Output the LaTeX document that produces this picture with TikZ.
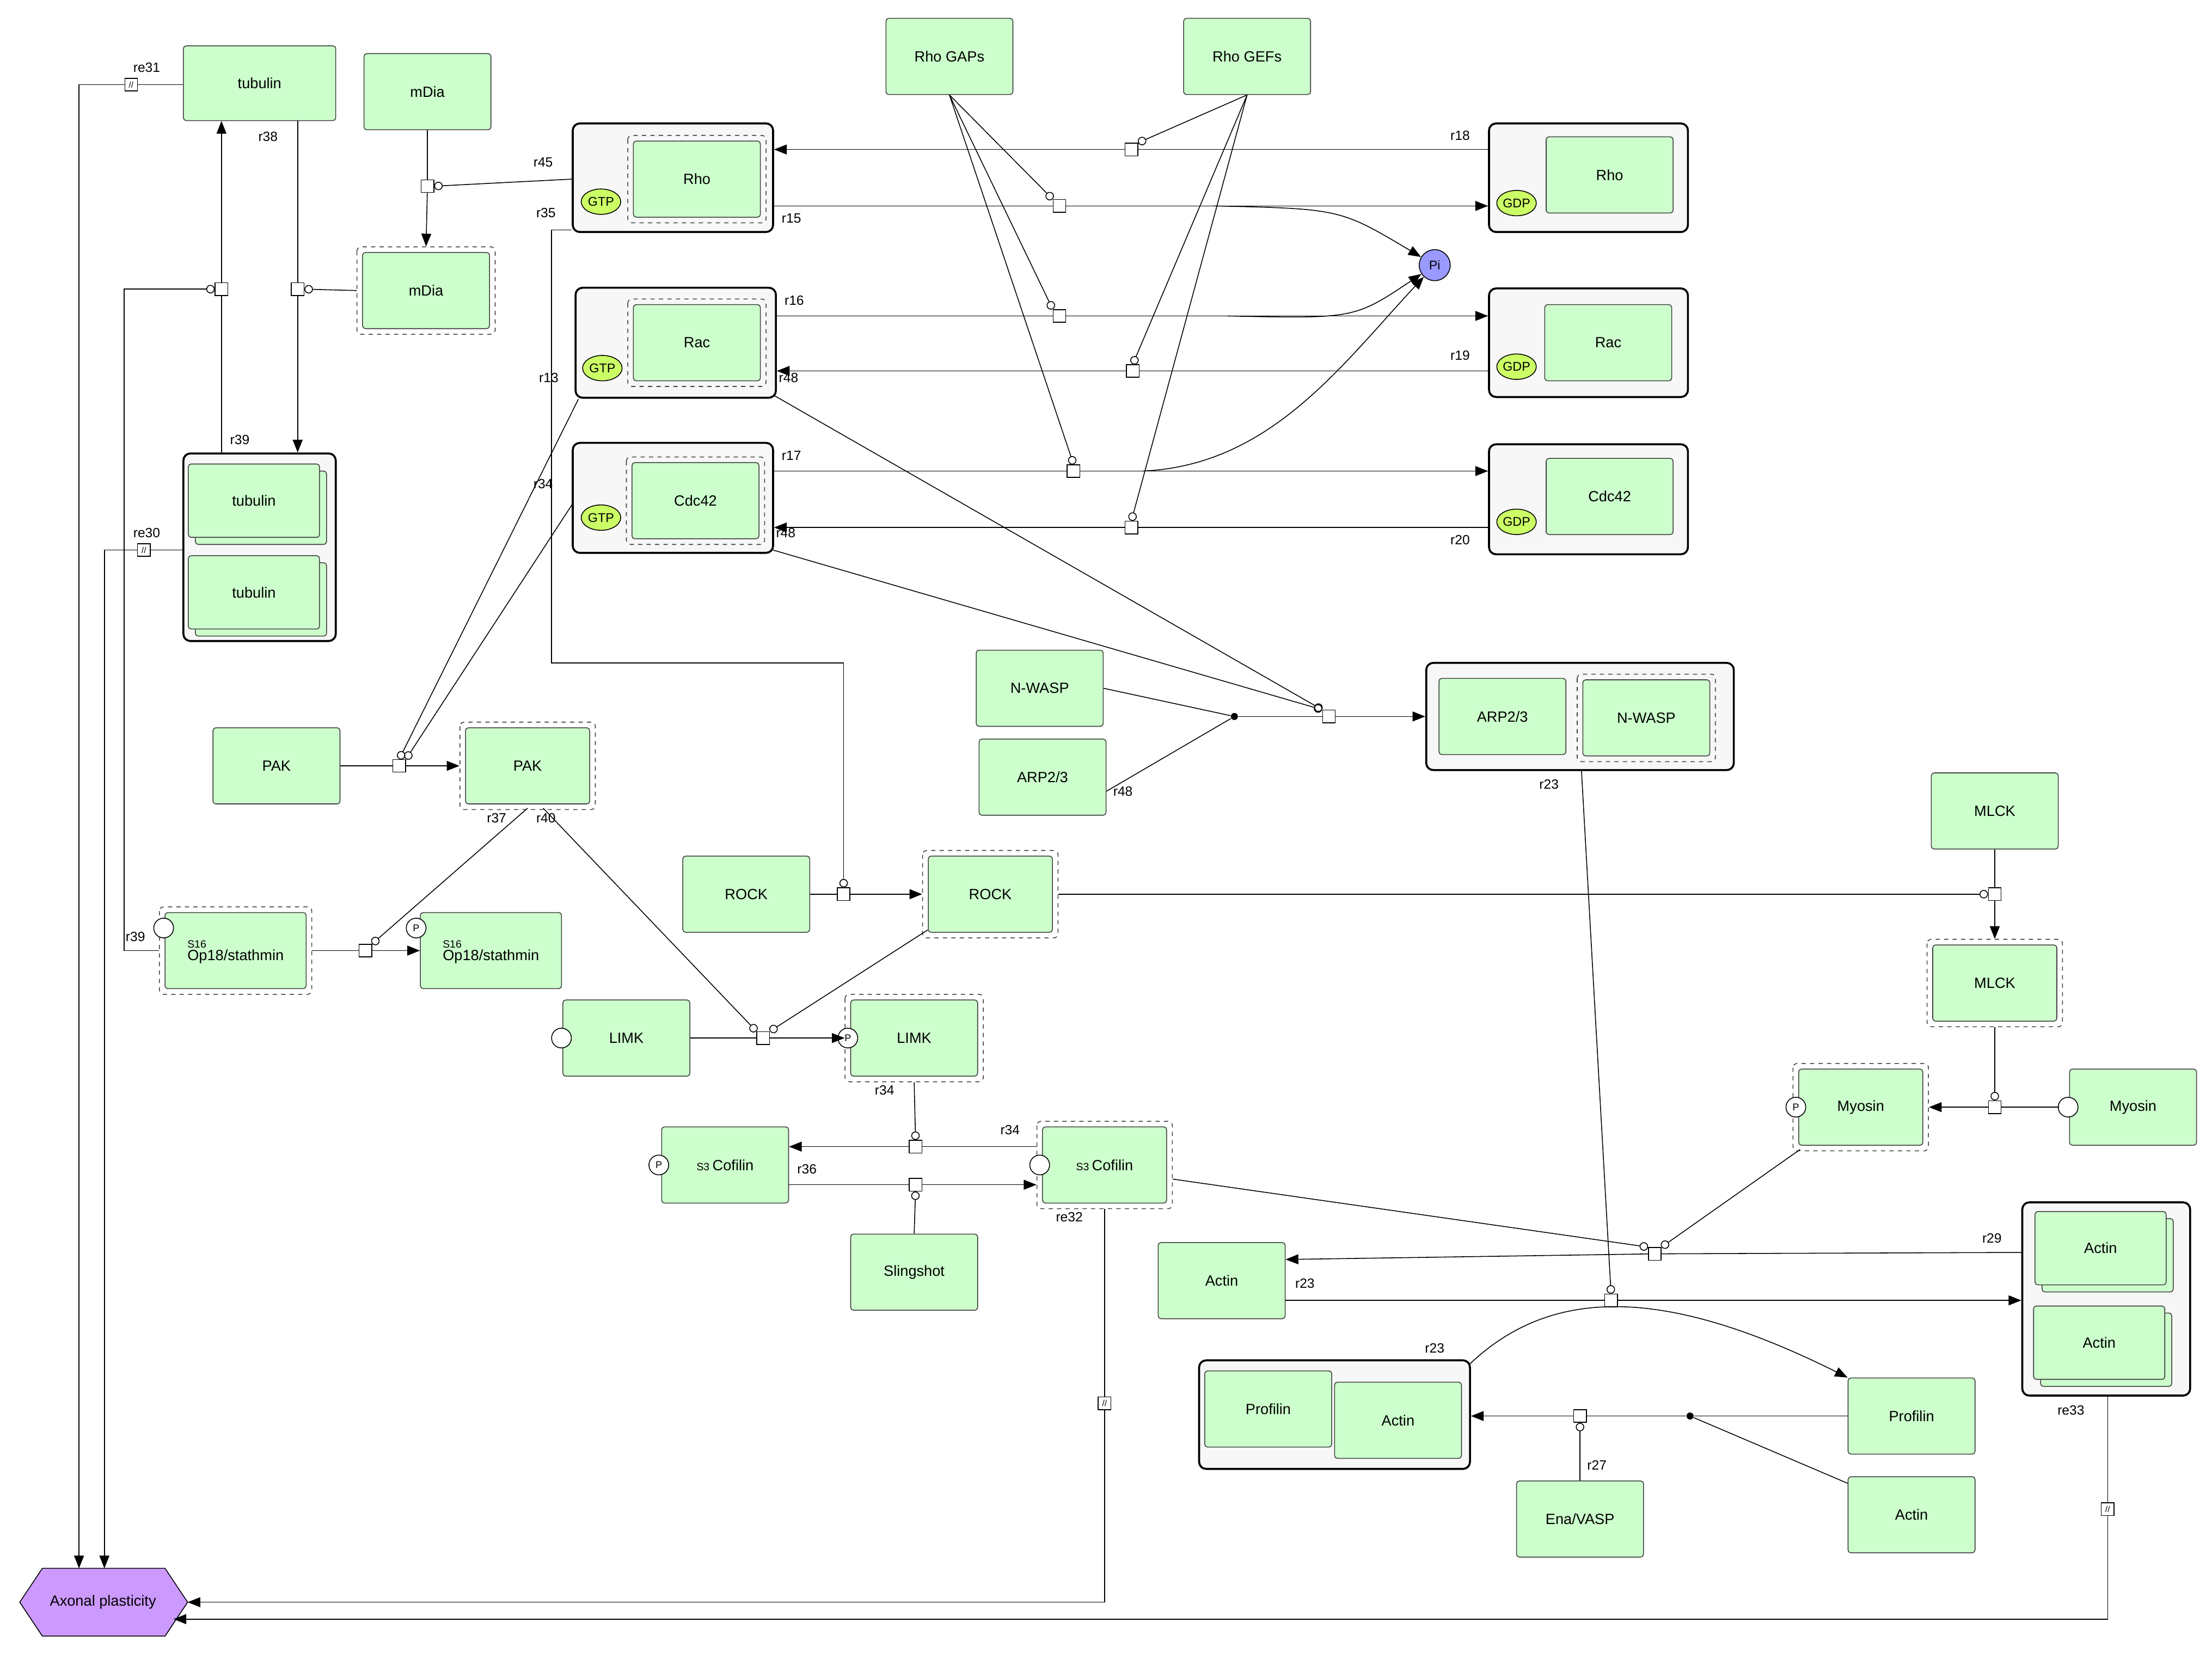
\documentclass[tikz,border=0pt]{standalone}
\usepackage{fontspec}
\setmainfont{Liberation Sans}
\usetikzlibrary{arrows.meta,calc,shapes.geometric}
\definecolor{spg}{HTML}{CCFFCC}
\definecolor{gtp}{HTML}{CCFF66}
\definecolor{pic}{HTML}{9999FF}
\definecolor{phen}{HTML}{CC99FF}
\tikzset{
 sp/.style={draw=black!75, fill=spg, rounded corners=2pt, minimum width=90pt, minimum height=54pt, inner sep=0pt, font=\fontsize{10.5}{12}\selectfont},
 outer/.style={draw=black!75, dashed, rounded corners=3pt},
 cplx/.style={draw=black, line width=1.4pt, fill=black!3, rounded corners=5pt, inner sep=0pt},
 rx/.style={draw=black, fill=white, minimum size=9pt, inner sep=0pt, font=\fontsize{6}{6}\selectfont},
 dot/.style={circle, fill=black, minimum size=5pt, inner sep=0pt},
 arr/.style={-{Triangle[length=9pt,width=7pt]}},
 mod/.style={-{Circle[open,length=6pt,width=6pt]}},
 lab/.style={font=\fontsize{9.5}{11}\selectfont, inner sep=1pt},
 st/.style={circle, draw=black, fill=white, minimum size=14pt, inner sep=0pt, font=\fontsize{7}{7}\selectfont},
 gt/.style={ellipse, draw=black, fill=gtp, minimum width=28pt, minimum height=18pt, inner sep=0pt, font=\fontsize{9}{9}\selectfont},
}
\newcommand{\actn}[4][90]{\draw[outer] ($(#3)+(-#1/2-4,-31)$) rectangle ($(#3)+(#1/2+4,31)$); \node[sp,minimum width=#1 pt] (#2) at (#3) {#4};}
\newcommand{\stk}[3]{\node[sp,minimum width=93pt,minimum height=52pt] at ($(#2)+(5,5)$) {}; \node[sp,minimum width=93pt,minimum height=52pt] (#1) at (#2) {#3};}
\newcommand{\opt}{\begin{tabular}{@{}l@{}}\fontsize{7.5}{7}\selectfont S16\\[-3pt]Op18/stathmin\end{tabular}}
\begin{document}
\begin{tikzpicture}[x=1pt,y=-1pt,every path/.style={line width=0.6pt}]
\useasboundingbox (0,0) rectangle (1568,1176);
\fill[white] (0,0) rectangle (1568,1176);
% ---------- species
\node[sp,minimum width=108pt,minimum height=53pt] (tub1) at (184,59) {tubulin};
\node[sp] (mdia) at (303,65) {mDia};
\actn{mdiaA}{302,206}{mDia}
\node[sp] (gaps) at (673,40) {Rho GAPs};
\node[sp] (gefs) at (884,40) {Rho GEFs};
% Rho GTP
\node[cplx,minimum width=142pt,minimum height=77pt] (rhoT) at (477,126) {};
\actn{rhoTi}{494,127}{Rho}
\node[gt] at (426,143) {GTP};
\node[cplx,minimum width=141pt,minimum height=77pt] (rhoD) at (1126,126) {};
\node[sp] (rhoDi) at (1141,124) {Rho};
\node[gt] at (1075,144) {GDP};
% Rac
\node[cplx,minimum width=142pt,minimum height=78pt] (racT) at (479,243) {};
\actn{racTi}{494,243}{Rac}
\node[gt] at (427,261) {GTP};
\node[cplx,minimum width=141pt,minimum height=77pt] (racD) at (1126,243) {};
\node[sp] (racDi) at (1140,243) {Rac};
\node[gt] at (1075,260) {GDP};
% Cdc42
\node[cplx,minimum width=142pt,minimum height=78pt] (cdcT) at (477,353) {};
\actn{cdcTi}{493,355}{Cdc42}
\node[gt] at (426,367) {GTP};
\node[cplx,minimum width=141pt,minimum height=78pt] (cdcD) at (1126,354) {};
\node[sp] (cdcDi) at (1141,352) {Cdc42};
\node[gt] at (1075,370) {GDP};
\node[circle,draw=black,fill=pic,minimum size=22pt,inner sep=0pt,font=\fontsize{9}{9}\selectfont] (pi) at (1017,188) {Pi};
% tubulin complex
\node[cplx,minimum width=108pt,minimum height=133pt] (tubC) at (184,388) {};
\stk{tub2}{180,355}{tubulin}
\stk{tub3}{180,420}{tubulin}
% PAK
\node[sp] (pak) at (196,543) {PAK};
\actn[88]{pakA}{374,543}{PAK}
% Op18
\actn[100]{opA}{167,674}{\opt}
\node[st] at (116,658) {};
\node[sp,minimum width=100pt] (opP) at (348,674) {\opt};
\node[st] at (295,658) {P};
% ROCK
\node[sp] (rock) at (529,634) {ROCK};
\actn[88]{rockA}{702,634}{ROCK}
% LIMK
\node[sp] (limk) at (444,736) {LIMK};
\node[st] at (398,736) {};
\actn[90]{limkA}{648,736}{LIMK}
\node[st] at (601,736) {P};
% Cofilin
\node[sp] (cofP) at (514,826) {\fontsize{7.5}{7}\selectfont S3 \fontsize{10.5}{12}\selectfont Cofilin};
\node[st] at (467,826) {P};
\actn[88]{cofA}{783,826}{\fontsize{7.5}{7}\selectfont S3 \fontsize{10.5}{12}\selectfont Cofilin};
\node[st] at (737,826) {};
\node[sp] (sling) at (648,902) {Slingshot};
% N-WASP / ARP
\node[sp] (nwasp) at (737,488) {N-WASP};
\node[sp] (arp) at (739,551) {ARP2/3};
\node[cplx,minimum width=218pt,minimum height=76pt] (arpC) at (1120,508) {};
\node[sp] (arpCi) at (1065,508) {ARP2/3};
\actn{nwCi}{1167,509}{N-WASP}
% MLCK / Myosin
\node[sp] (mlck) at (1414,575) {MLCK};
\actn[88]{mlckA}{1414,697}{MLCK}
\node[sp] (myo) at (1512,785) {Myosin};
\node[st] at (1466,785) {};
\actn[88]{myoA}{1319,785}{Myosin}
\node[st] at (1273,785) {P};
% Actin
\node[sp] (actin) at (866,908) {Actin};
\node[cplx,minimum width=119pt,minimum height=137pt] (actC) at (1493,921) {};
\stk{act2}{1489,885}{Actin}
\stk{act3}{1488,952}{Actin}
\node[cplx,minimum width=192pt,minimum height=77pt] (paC) at (946,1003) {};
\node[sp] (paP) at (899,999) {Profilin};
\node[sp] (paA) at (991,1007) {Actin};
\node[sp] (prof) at (1355,1004) {Profilin};
\node[sp] (actin2) at (1355,1074) {Actin};
\node[sp] (ena) at (1120,1077) {Ena/VASP};
% Axonal plasticity
\draw[fill=phen,draw=black] (14,1136)--(30,1112)--(117,1112)--(133,1136)--(117,1160)--(30,1160)--cycle;
\node[minimum width=119pt,minimum height=48pt,inner sep=0pt,font=\fontsize{10.5}{12}\selectfont] (ax) at (73,1136) {Axonal plasticity};
% ---------- reactions
\node[rx] (re31) at (93,60) {//};
\draw (tub1.west|-0,60) -- (re31);
\draw[arr] (re31) -- (56,60) -- (56,1112);
\node[lab] at (104,48) {re31};
\node[rx] (re30) at (102,390) {//};
\draw (tubC.west|-0,390) -- (re30);
\draw[arr] (re30) -- (74,390) -- (74,1112);
\node[lab] at (104,378) {re30};
\node[rx] (re32) at (783,995) {//};
\draw (cofA.south|-0,857) -- (re32);
\draw[arr] (re32) -- (783,1136) -- (133,1136);
\node[lab] at (758,863) {re32};
\node[rx] (re33) at (1494,1070) {//};
\draw (actC.south-|1494,0) -- (re33);
\draw[arr] (re33) -- (1494,1148) -- (123,1148);
\node[lab] at (1468,1000) {re33};
% r38
\node[rx] (r38) at (211,205) {};
\draw (tub1.south-|211,0) -- (r38);
\draw[arr] (r38) -- (tubC.north-|211,0);
\draw[mod] (mdiaA.west) ++(-4,0) -- (r38.east);
\node[lab] at (190,97) {r38};
% r39
\node[rx] (r39) at (157,205) {};
\draw (tubC.north-|157,0) -- (r39);
\draw[arr] (r39) -- (tub1.south-|157,0);
\draw[mod] (opA.west) ++(-4,0) -- (88,674) -- (88,205) -- (r39.west);
\node[lab] at (170,312) {r39};
\node[lab] at (96,664) {r39};
% r45
\node[rx] (r45) at (303,132) {};
\draw (mdia.south) -- (r45);
\draw[arr] (r45) -- ($(mdiaA.north)+(0,-4)$);
\draw[mod] (rhoT.west|-0,127) -- (r45.east);
\node[lab] at (385,115) {r45};
% r18
\node[rx] (r18) at (802,106) {};
\draw (rhoD.west|-0,106) -- (r18);
\draw[arr] (r18) -- (rhoT.east|-0,106);
\draw[mod] (gefs.south) -- (r18.north east);
\node[lab] at (1035,96) {r18};
% r15
\node[rx] (r15) at (751,146) {};
\draw (rhoT.east|-0,146) -- (r15);
\draw[arr] (r15) -- (rhoD.west|-0,146);
\draw[mod] (gaps.south) -- (r15.north west);
\draw[arr] (860,146) .. controls (950,148) .. (pi);
\node[lab] at (561,155) {r15};
% r16
\node[rx] (r16) at (751,224) {};
\draw (racT.east|-0,224) -- (r16);
\draw[arr] (r16) -- (racD.west|-0,224);
\draw[mod] (gaps.south) -- (r16.north west);
\draw[arr] (870,224) .. controls (960,226) .. (pi);
\node[lab] at (563,213) {r16};
% r19
\node[rx] (r19) at (803,263) {};
\draw (racD.west|-0,263) -- (r19);
\draw[arr] (r19) -- (racT.east|-0,263);
\draw[mod] (gefs.south) -- (r19.north);
\node[lab] at (1035,252) {r19};
\node[lab] at (559,268) {r48};
% r17
\node[rx] (r17) at (761,334) {};
\draw (cdcT.east|-0,334) -- (r17);
\draw[arr] (r17) -- (cdcD.west|-0,334);
\draw[mod] (gaps.south) -- (r17.north);
\draw[arr] (810,334) .. controls (900,330) and (950,260) .. (pi);
\node[lab] at (561,323) {r17};
% r20
\node[rx] (r20) at (802,374) {};
\draw (cdcD.west|-0,374) -- (r20);
\draw[arr] (r20) -- (cdcT.east|-0,374);
\draw[mod] (gefs.south) -- (r20.north);
\node[lab] at (1035,383) {r20};
\node[lab] at (557,378) {r48};
% ROCK activation
\node[rx] (rrock) at (598,634) {};
\draw (rock.east) -- (rrock);
\draw[arr] (rrock) -- ($(rockA.west)+(-4,0)$);
\draw[mod] (rhoT.west|-0,163) -- (391,163) -- (391,470) -- (598,470) -- (rrock.north);
\node[lab] at (387,151) {r35};
% PAK activation
\node[rx] (rpak) at (283,543) {};
\draw (pak.east) -- (rpak);
\draw[arr] (rpak) -- ($(pakA.west)+(-4,0)$);
\draw[mod] (410,283) -- (rpak.north);
\draw[mod] (406,357) -- (rpak.north east);
\node[lab] at (389,268) {r13};
\node[lab] at (385,343) {r34};
% Op18
\node[rx] (rop) at (259,674) {};
\draw ($(opA.east)+(4,0)$) -- (rop);
\draw[arr] (rop) -- (opP.west);
\draw[mod] (374,573) -- (rop.north east);
\node[lab] at (352,580) {r37};
% LIMK
\node[rx] (rlimk) at (541,736) {};
\draw (limk.east) -- (rlimk);
\draw[arr] (rlimk) -- ($(limkA.west)+(-4,0)$);
\draw[mod] (385,573) -- (rlimk.north west);
\draw[mod] (rockA.south west) ++(0,-2) -- (rlimk.north east);
\node[lab] at (387,580) {r40};
% r34
\node[rx] (r34) at (649,813) {};
\draw ($(cofA.west)+(-4,-13)$) -- (r34);
\draw[arr] (r34) -- (cofP.east|-0,813);
\draw[mod] ($(limkA.south)+(0,4)$) -- (r34.north);
\node[lab] at (627,773) {r34};
\node[lab] at (716,801) {r34};
% r36
\node[rx] (r36) at (649,840) {};
\draw (cofP.east|-0,840) -- (r36);
\draw[arr] (r36) -- ($(cofA.west)+(-4,14)$);
\draw[mod] (sling.north) -- (r36.south);
\node[lab] at (572,829) {r36};
% ARP
\node[dot] (darp) at (875,508) {};
\node[rx] (rarp) at (942,508) {};
\draw (nwasp.east) -- (darp);
\draw (arp.east) ++(0,10) -- (darp);
\draw (darp) -- (rarp);
\draw[arr] (rarp) -- (arpC.west);
\draw[mod] (548,280) -- (rarp.north west);
\draw[mod] (548,390) -- (rarp.north west);
\node[lab] at (796,561) {r48};
\node[lab] at (1098,556) {r23};
% MLCK
\node[rx] (rmlck) at (1414,634) {};
\draw (mlck.south) -- (rmlck);
\draw[arr] (rmlck) -- ($(mlckA.north)+(0,-4)$);
\draw[mod] ($(rockA.east)+(4,0)$) -- (rmlck.west);
% Myosin
\node[rx] (rmyo) at (1414,785) {};
\draw ($(myo.west)+(-7,0)$) -- (rmyo);
\draw[arr] (rmyo) -- ($(myoA.east)+(4,0)$);
\draw[mod] ($(mlckA.south)+(0,4)$) -- (rmyo.north);
% r29
\node[rx] (r29) at (1173,889) {};
\draw (actC.west|-0,888) -- (r29);
\draw[arr] (r29) -- (actin.east|-0,893);
\draw[mod] ($(cofA.east)+(4,10)$) -- (r29.north west);
\draw[mod] (1276,815) -- (r29.north east);
\node[lab] at (1412,878) {r29};
% r23
\node[rx] (r23) at (1142,922) {};
\draw (actin.east|-0,922) -- (r23);
\draw[arr] (r23) -- (actC.west|-0,922);
\draw[mod] (1121,546) -- (r23.north);
\draw[arr] (1042,967) .. controls (1100,912) and (1180,912) .. (prof.north west);
\node[lab] at (925,910) {r23};
\node[lab] at (1017,956) {r23};
% r27
\node[dot] (dpa) at (1198,1004) {};
\node[rx] (r27) at (1120,1004) {};
\draw (prof.west) -- (dpa);
\draw (actin2.north west) ++(0,5) -- (dpa);
\draw (dpa) -- (r27);
\draw[arr] (r27) -- (paC.east|-0,1004);
\draw[mod] (ena.north) -- (r27.south);
\node[lab] at (1132,1039) {r27};
\end{tikzpicture}
\end{document}
